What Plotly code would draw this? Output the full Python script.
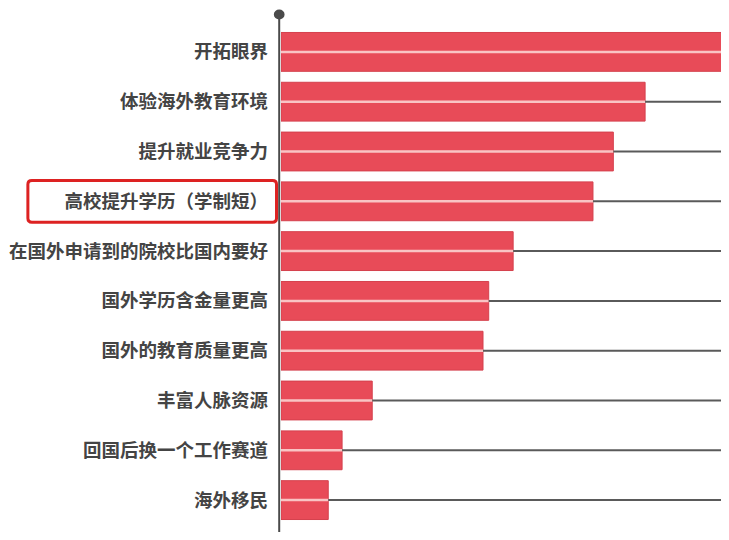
import plotly.graph_objects as go

reasons = ["开拓眼界", "体验海外教育环境", "提升就业竞争力", "高校提升学历（学制短）",
           "在国外申请到的院校比国内要好", "国外学历含金量更高", "国外的教育质量更高",
           "丰富人脉资源", "回国后换一个工作赛道", "海外移民"]
shares = [62, 44.7, 40.8, 38.3, 28.5, 25.5, 24.8, 11.2, 7.5, 5.8]
x_max = 55

bar_red = "#e84b58"

fig = go.Figure()
fig.add_trace(go.Bar(x=shares, y=reasons, orientation="h", width=0.78,
                     marker=dict(color=bar_red, line=dict(color="#d5404d", width=1)),
                     hoverinfo="skip"))

# light stripe through each bar, grey leader line from bar end to the edge
for r, v in zip(reasons, shares):
    fig.add_trace(go.Scatter(x=[0, min(v, x_max)], y=[r, r], mode="lines",
                             line=dict(color="#f9c4c4", width=2.5), hoverinfo="skip"))
    if v < x_max:
        fig.add_trace(go.Scatter(x=[v, x_max], y=[r, r], mode="lines",
                                 line=dict(color="#5a5a5a", width=2), hoverinfo="skip"))

# axis line with dot on top
fig.add_shape(type="line", xref="paper", yref="paper", x0=-0.004, x1=-0.004,
              y0=-0.05, y1=1.026, line=dict(color="#4a4a4a", width=2))
fig.add_shape(type="circle", xref="paper", yref="paper",
              x0=-0.016, x1=0.008, y0=1.015, y1=1.035,
              fillcolor="#4a4a4a", line=dict(width=0))

# red highlight box (rounded corners) around one label
bx0, bx1, by0, by1 = -0.565, -0.01, 3 - 0.42, 3 + 0.42
rx, ry = 0.009, 0.08
box = (f"M {bx0 + rx} {by0} L {bx1 - rx} {by0} Q {bx1} {by0} {bx1} {by0 + ry} "
       f"L {bx1} {by1 - ry} Q {bx1} {by1} {bx1 - rx} {by1} "
       f"L {bx0 + rx} {by1} Q {bx0} {by1} {bx0} {by1 - ry} "
       f"L {bx0} {by0 + ry} Q {bx0} {by0} {bx0 + rx} {by0} Z")
fig.add_shape(type="path", xref="paper", yref="y", path=box,
              line=dict(color="#dd2222", width=3), fillcolor="rgba(0,0,0,0)")

fig.update_layout(
    autosize=False, width=721, height=524,
    margin=dict(l=273, r=0, t=19, b=7),
    paper_bgcolor="white", plot_bgcolor="white",
    showlegend=False, bargap=0.22,
    font=dict(family="Noto Sans CJK SC", color="#444444"),
)
fig.update_xaxes(range=[0, x_max], visible=False)
fig.update_yaxes(autorange="reversed", automargin=False, showgrid=False, zeroline=False,
                 showline=False, ticks="", ticklabelstandoff=12,
                 tickfont=dict(size=18.5, family="Noto Sans CJK SC", weight="bold", color="#444444"))

fig.write_html("out.html")
